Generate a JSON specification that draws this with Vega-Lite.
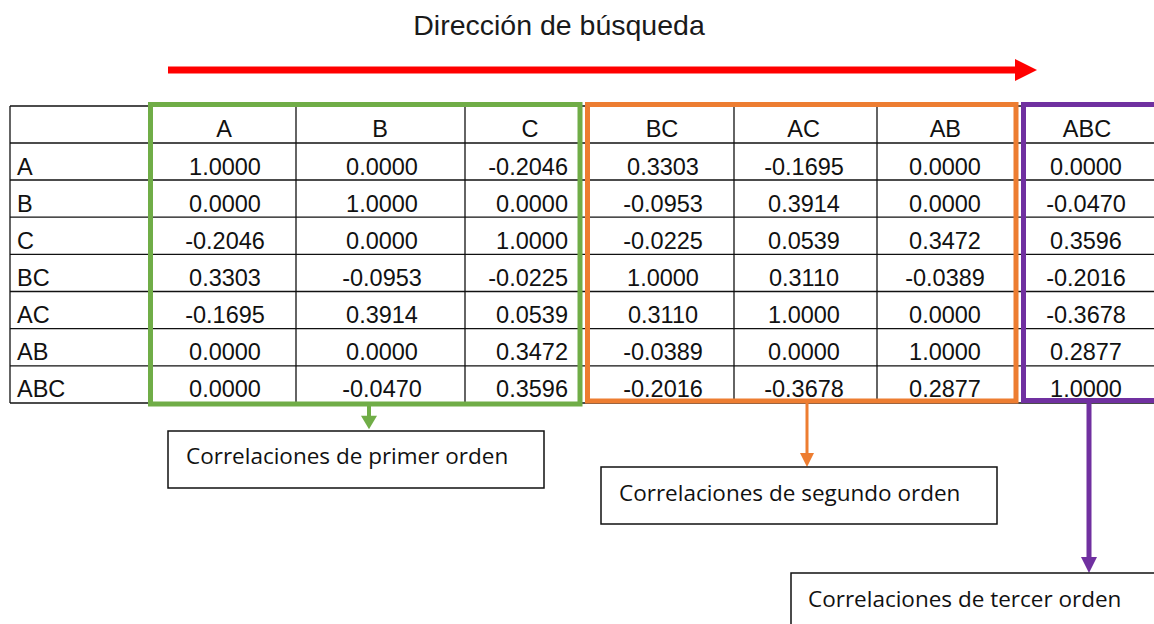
{
  "$schema": "https://vega.github.io/schema/vega-lite/v6.json",
  "width": 1154,
  "height": 624,
  "autosize": {"type": "none"},
  "padding": 0,
  "background": "white",
  "config": {"view": {"stroke": null}},
  "resolve": {"scale": {"x": "independent", "y": "independent"}},
  "datasets": {
    "m": [
      {"row": "A", "col": "A", "v": "1.0000"}, {"row": "A", "col": "B", "v": "0.0000"}, {"row": "A", "col": "C", "v": "-0.2046"}, {"row": "A", "col": "BC", "v": "0.3303"}, {"row": "A", "col": "AC", "v": "-0.1695"}, {"row": "A", "col": "AB", "v": "0.0000"}, {"row": "A", "col": "ABC", "v": "0.0000"},
      {"row": "B", "col": "A", "v": "0.0000"}, {"row": "B", "col": "B", "v": "1.0000"}, {"row": "B", "col": "C", "v": "0.0000"}, {"row": "B", "col": "BC", "v": "-0.0953"}, {"row": "B", "col": "AC", "v": "0.3914"}, {"row": "B", "col": "AB", "v": "0.0000"}, {"row": "B", "col": "ABC", "v": "-0.0470"},
      {"row": "C", "col": "A", "v": "-0.2046"}, {"row": "C", "col": "B", "v": "0.0000"}, {"row": "C", "col": "C", "v": "1.0000"}, {"row": "C", "col": "BC", "v": "-0.0225"}, {"row": "C", "col": "AC", "v": "0.0539"}, {"row": "C", "col": "AB", "v": "0.3472"}, {"row": "C", "col": "ABC", "v": "0.3596"},
      {"row": "BC", "col": "A", "v": "0.3303"}, {"row": "BC", "col": "B", "v": "-0.0953"}, {"row": "BC", "col": "C", "v": "-0.0225"}, {"row": "BC", "col": "BC", "v": "1.0000"}, {"row": "BC", "col": "AC", "v": "0.3110"}, {"row": "BC", "col": "AB", "v": "-0.0389"}, {"row": "BC", "col": "ABC", "v": "-0.2016"},
      {"row": "AC", "col": "A", "v": "-0.1695"}, {"row": "AC", "col": "B", "v": "0.3914"}, {"row": "AC", "col": "C", "v": "0.0539"}, {"row": "AC", "col": "BC", "v": "0.3110"}, {"row": "AC", "col": "AC", "v": "1.0000"}, {"row": "AC", "col": "AB", "v": "0.0000"}, {"row": "AC", "col": "ABC", "v": "-0.3678"},
      {"row": "AB", "col": "A", "v": "0.0000"}, {"row": "AB", "col": "B", "v": "0.0000"}, {"row": "AB", "col": "C", "v": "0.3472"}, {"row": "AB", "col": "BC", "v": "-0.0389"}, {"row": "AB", "col": "AC", "v": "0.0000"}, {"row": "AB", "col": "AB", "v": "1.0000"}, {"row": "AB", "col": "ABC", "v": "0.2877"},
      {"row": "ABC", "col": "A", "v": "0.0000"}, {"row": "ABC", "col": "B", "v": "-0.0470"}, {"row": "ABC", "col": "C", "v": "0.3596"}, {"row": "ABC", "col": "BC", "v": "-0.2016"}, {"row": "ABC", "col": "AC", "v": "-0.3678"}, {"row": "ABC", "col": "AB", "v": "0.2877"}, {"row": "ABC", "col": "ABC", "v": "1.0000"}
    ],
    "notes": [
      {"group": "primer", "label": "Correlaciones de primer orden"},
      {"group": "segundo", "label": "Correlaciones de segundo orden"},
      {"group": "tercer", "label": "Correlaciones de tercer orden"}
    ],
    "title": [{"t": "Dirección de búsqueda"}],
    "one": [{}]
  },
  "layer": [
    {"data": {"name": "title"}, "mark": {"type": "text", "font": "Liberation Sans", "fontSize": 28.5, "align": "center", "baseline": "alphabetic", "color": "#1a1a1a"},
     "encoding": {"x": {"datum": 559, "type": "quantitative", "scale": {"domain": [0, 1154], "nice": false, "zero": false}, "axis": null},
                  "y": {"datum": 35, "type": "quantitative", "scale": {"domain": [0, 624], "nice": false, "zero": false, "reverse": true}, "axis": null},
                  "text": {"field": "t"}}},
    {"data": {"name": "one"}, "mark": {"type": "rule", "color": "#ff0000", "strokeWidth": 7},
     "encoding": {"x": {"datum": 168, "type": "quantitative", "scale": {"domain": [0, 1154], "nice": false, "zero": false}, "axis": null}, "x2": {"datum": 1018},
                  "y": {"datum": 70, "type": "quantitative", "scale": {"domain": [0, 624], "nice": false, "zero": false, "reverse": true}, "axis": null}}},
    {"data": {"name": "one"}, "mark": {"type": "point", "shape": "M-1,-1L1,0L-1,1Z", "filled": true, "opacity": 1, "strokeWidth": 0, "size": 484, "color": "#ff0000"},
     "encoding": {"x": {"datum": 1026, "type": "quantitative", "scale": {"domain": [0, 1154], "nice": false, "zero": false}, "axis": null},
                  "y": {"datum": 70, "type": "quantitative", "scale": {"domain": [0, 624], "nice": false, "zero": false, "reverse": true}, "axis": null}}},

    {"data": {"name": "one"}, "mark": {"type": "rule", "color": "#111", "strokeWidth": 1.3},
     "encoding": {"x": {"datum": 10, "type": "quantitative", "scale": {"domain": [0, 1154], "nice": false, "zero": false}, "axis": null}, "x2": {"datum": 1154},
                  "y": {"datum": 106, "type": "quantitative", "scale": {"domain": [0, 624], "nice": false, "zero": false, "reverse": true}, "axis": null}}},
    {"data": {"name": "one"}, "mark": {"type": "rule", "color": "#111", "strokeWidth": 1.3},
     "encoding": {"x": {"datum": 10, "type": "quantitative", "scale": {"domain": [0, 1154], "nice": false, "zero": false}, "axis": null}, "x2": {"datum": 1154},
                  "y": {"datum": 143, "type": "quantitative", "scale": {"domain": [0, 624], "nice": false, "zero": false, "reverse": true}, "axis": null}}},
    {"data": {"name": "m"}, "transform": [{"filter": "datum.col === 'A'"}], "mark": {"type": "rule", "color": "#111", "strokeWidth": 1.3},
     "encoding": {"x": {"datum": 10, "type": "quantitative", "scale": {"domain": [0, 1154], "nice": false, "zero": false}, "axis": null}, "x2": {"datum": 1154},
                  "y": {"field": "row", "type": "ordinal", "scale": {"type": "point", "domain": ["A", "B", "C", "BC", "AC", "AB", "ABC"], "range": [180, 403], "padding": 0}, "axis": null}}},
    {"data": {"name": "one"}, "mark": {"type": "rule", "color": "#111", "strokeWidth": 1.3},
     "encoding": {"x": {"datum": 10, "type": "quantitative", "scale": {"domain": [0, 1154], "nice": false, "zero": false}, "axis": null},
                  "y": {"datum": 106, "type": "quantitative", "scale": {"domain": [0, 624], "nice": false, "zero": false, "reverse": true}, "axis": null}, "y2": {"datum": 403}}},
    {"data": {"name": "one"}, "mark": {"type": "rule", "color": "#111", "strokeWidth": 1.3},
     "encoding": {"x": {"datum": 296, "type": "quantitative", "scale": {"domain": [0, 1154], "nice": false, "zero": false}, "axis": null},
                  "y": {"datum": 106, "type": "quantitative", "scale": {"domain": [0, 624], "nice": false, "zero": false, "reverse": true}, "axis": null}, "y2": {"datum": 403}}},
    {"data": {"name": "one"}, "mark": {"type": "rule", "color": "#111", "strokeWidth": 1.3},
     "encoding": {"x": {"datum": 465, "type": "quantitative", "scale": {"domain": [0, 1154], "nice": false, "zero": false}, "axis": null},
                  "y": {"datum": 106, "type": "quantitative", "scale": {"domain": [0, 624], "nice": false, "zero": false, "reverse": true}, "axis": null}, "y2": {"datum": 403}}},
    {"data": {"name": "one"}, "mark": {"type": "rule", "color": "#111", "strokeWidth": 1.3},
     "encoding": {"x": {"datum": 734, "type": "quantitative", "scale": {"domain": [0, 1154], "nice": false, "zero": false}, "axis": null},
                  "y": {"datum": 106, "type": "quantitative", "scale": {"domain": [0, 624], "nice": false, "zero": false, "reverse": true}, "axis": null}, "y2": {"datum": 403}}},
    {"data": {"name": "one"}, "mark": {"type": "rule", "color": "#111", "strokeWidth": 1.3},
     "encoding": {"x": {"datum": 877, "type": "quantitative", "scale": {"domain": [0, 1154], "nice": false, "zero": false}, "axis": null},
                  "y": {"datum": 106, "type": "quantitative", "scale": {"domain": [0, 624], "nice": false, "zero": false, "reverse": true}, "axis": null}, "y2": {"datum": 403}}},

    {"data": {"name": "m"}, "transform": [{"filter": "datum.col === 'A'"}], "mark": {"type": "text", "font": "Liberation Sans", "fontSize": 23.5, "align": "left", "baseline": "alphabetic", "color": "#111"},
     "encoding": {"x": {"datum": 17, "type": "quantitative", "scale": {"domain": [0, 1154], "nice": false, "zero": false}, "axis": null},
                  "y": {"field": "row", "type": "ordinal", "scale": {"type": "point", "domain": ["A", "B", "C", "BC", "AC", "AB", "ABC"], "range": [175, 397], "padding": 0}, "axis": null},
                  "text": {"field": "row"}}},
    {"data": {"name": "m"}, "transform": [{"filter": "datum.row === 'A' && (datum.col === 'A' || datum.col === 'B')"}], "mark": {"type": "text", "font": "Liberation Sans", "fontSize": 23.5, "align": "center", "baseline": "alphabetic", "color": "#111"},
     "encoding": {"x": {"field": "col", "type": "ordinal", "scale": {"type": "point", "domain": ["A", "B"], "range": [224, 380], "padding": 0}, "axis": null},
                  "y": {"datum": 137, "type": "quantitative", "scale": {"domain": [0, 624], "nice": false, "zero": false, "reverse": true}, "axis": null},
                  "text": {"field": "col"}}},
    {"data": {"name": "m"}, "transform": [{"filter": "datum.row === 'A' && datum.col === 'C'"}], "mark": {"type": "text", "font": "Liberation Sans", "fontSize": 23.5, "align": "center", "baseline": "alphabetic", "color": "#111"},
     "encoding": {"x": {"field": "col", "type": "ordinal", "scale": {"type": "point", "domain": ["C"], "range": [530, 530], "padding": 0}, "axis": null},
                  "y": {"datum": 137, "type": "quantitative", "scale": {"domain": [0, 624], "nice": false, "zero": false, "reverse": true}, "axis": null},
                  "text": {"field": "col"}}},
    {"data": {"name": "m"}, "transform": [{"filter": "datum.row === 'A' && (datum.col === 'BC' || datum.col === 'AC' || datum.col === 'AB' || datum.col === 'ABC')"}], "mark": {"type": "text", "font": "Liberation Sans", "fontSize": 23.5, "align": "center", "baseline": "alphabetic", "color": "#111"},
     "encoding": {"x": {"field": "col", "type": "ordinal", "scale": {"type": "point", "domain": ["BC", "AC", "AB", "ABC"], "range": [662, 1087], "padding": 0}, "axis": null},
                  "y": {"datum": 137, "type": "quantitative", "scale": {"domain": [0, 624], "nice": false, "zero": false, "reverse": true}, "axis": null},
                  "text": {"field": "col"}}},
    {"data": {"name": "m"}, "transform": [{"filter": "datum.col === 'A' || datum.col === 'B'"}], "mark": {"type": "text", "font": "Liberation Sans", "fontSize": 23.5, "align": "center", "baseline": "alphabetic", "color": "#111"},
     "encoding": {"x": {"field": "col", "type": "ordinal", "scale": {"type": "point", "domain": ["A", "B"], "range": [225, 382], "padding": 0}, "axis": null},
                  "y": {"field": "row", "type": "ordinal", "scale": {"type": "point", "domain": ["A", "B", "C", "BC", "AC", "AB", "ABC"], "range": [175, 397], "padding": 0}, "axis": null},
                  "text": {"field": "v"}}},
    {"data": {"name": "m"}, "transform": [{"filter": "datum.col === 'C'"}], "mark": {"type": "text", "font": "Liberation Sans", "fontSize": 23.5, "align": "right", "baseline": "alphabetic", "color": "#111"},
     "encoding": {"x": {"field": "col", "type": "ordinal", "scale": {"type": "point", "domain": ["C"], "range": [568, 568], "padding": 0}, "axis": null},
                  "y": {"field": "row", "type": "ordinal", "scale": {"type": "point", "domain": ["A", "B", "C", "BC", "AC", "AB", "ABC"], "range": [175, 397], "padding": 0}, "axis": null},
                  "text": {"field": "v"}}},
    {"data": {"name": "m"}, "transform": [{"filter": "datum.col === 'BC' || datum.col === 'AC' || datum.col === 'AB' || datum.col === 'ABC'"}], "mark": {"type": "text", "font": "Liberation Sans", "fontSize": 23.5, "align": "center", "baseline": "alphabetic", "color": "#111"},
     "encoding": {"x": {"field": "col", "type": "ordinal", "scale": {"type": "point", "domain": ["BC", "AC", "AB", "ABC"], "range": [663, 1086], "padding": 0}, "axis": null},
                  "y": {"field": "row", "type": "ordinal", "scale": {"type": "point", "domain": ["A", "B", "C", "BC", "AC", "AB", "ABC"], "range": [175, 397], "padding": 0}, "axis": null},
                  "text": {"field": "v"}}},

    {"data": {"name": "one"}, "mark": {"type": "rect", "fill": null, "stroke": "#70AD47", "strokeWidth": 5},
     "encoding": {"x": {"datum": 150.5, "type": "quantitative", "scale": {"domain": [0, 1154], "nice": false, "zero": false}, "axis": null}, "x2": {"datum": 580},
                  "y": {"datum": 104.5, "type": "quantitative", "scale": {"domain": [0, 624], "nice": false, "zero": false, "reverse": true}, "axis": null}, "y2": {"datum": 404}}},
    {"data": {"name": "one"}, "mark": {"type": "rect", "fill": null, "stroke": "#ED7D31", "strokeWidth": 5},
     "encoding": {"x": {"datum": 587.5, "type": "quantitative", "scale": {"domain": [0, 1154], "nice": false, "zero": false}, "axis": null}, "x2": {"datum": 1016},
                  "y": {"datum": 104.5, "type": "quantitative", "scale": {"domain": [0, 624], "nice": false, "zero": false, "reverse": true}, "axis": null}, "y2": {"datum": 401}}},
    {"data": {"name": "one"}, "mark": {"type": "rect", "fill": null, "stroke": "#7030A0", "strokeWidth": 5},
     "encoding": {"x": {"datum": 1023.5, "type": "quantitative", "scale": {"domain": [0, 1154], "nice": false, "zero": false}, "axis": null}, "x2": {"datum": 1170},
                  "y": {"datum": 104.5, "type": "quantitative", "scale": {"domain": [0, 624], "nice": false, "zero": false, "reverse": true}, "axis": null}, "y2": {"datum": 400.5}}},

    {"data": {"name": "one"}, "mark": {"type": "rule", "color": "#70AD47", "strokeWidth": 4},
     "encoding": {"x": {"datum": 369, "type": "quantitative", "scale": {"domain": [0, 1154], "nice": false, "zero": false}, "axis": null},
                  "y": {"datum": 405, "type": "quantitative", "scale": {"domain": [0, 624], "nice": false, "zero": false, "reverse": true}, "axis": null}, "y2": {"datum": 418}}},
    {"data": {"name": "one"}, "mark": {"type": "point", "shape": "M-1,-0.85L1,-0.85L0,0.85Z", "filled": true, "opacity": 1, "strokeWidth": 0, "size": 256, "color": "#70AD47"},
     "encoding": {"x": {"datum": 369, "type": "quantitative", "scale": {"domain": [0, 1154], "nice": false, "zero": false}, "axis": null},
                  "y": {"datum": 422.5, "type": "quantitative", "scale": {"domain": [0, 624], "nice": false, "zero": false, "reverse": true}, "axis": null}}},
    {"data": {"name": "one"}, "mark": {"type": "rule", "color": "#ED7D31", "strokeWidth": 3},
     "encoding": {"x": {"datum": 807, "type": "quantitative", "scale": {"domain": [0, 1154], "nice": false, "zero": false}, "axis": null},
                  "y": {"datum": 402, "type": "quantitative", "scale": {"domain": [0, 624], "nice": false, "zero": false, "reverse": true}, "axis": null}, "y2": {"datum": 455}}},
    {"data": {"name": "one"}, "mark": {"type": "point", "shape": "M-1,-1L1,-1L0,1Z", "filled": true, "opacity": 1, "strokeWidth": 0, "size": 196, "color": "#ED7D31"},
     "encoding": {"x": {"datum": 807, "type": "quantitative", "scale": {"domain": [0, 1154], "nice": false, "zero": false}, "axis": null},
                  "y": {"datum": 460, "type": "quantitative", "scale": {"domain": [0, 624], "nice": false, "zero": false, "reverse": true}, "axis": null}}},
    {"data": {"name": "one"}, "mark": {"type": "rule", "color": "#7030A0", "strokeWidth": 5},
     "encoding": {"x": {"datum": 1089, "type": "quantitative", "scale": {"domain": [0, 1154], "nice": false, "zero": false}, "axis": null},
                  "y": {"datum": 401, "type": "quantitative", "scale": {"domain": [0, 624], "nice": false, "zero": false, "reverse": true}, "axis": null}, "y2": {"datum": 560}}},
    {"data": {"name": "one"}, "mark": {"type": "point", "shape": "M-1,-1L1,-1L0,1Z", "filled": true, "opacity": 1, "strokeWidth": 0, "size": 256, "color": "#7030A0"},
     "encoding": {"x": {"datum": 1089, "type": "quantitative", "scale": {"domain": [0, 1154], "nice": false, "zero": false}, "axis": null},
                  "y": {"datum": 565, "type": "quantitative", "scale": {"domain": [0, 624], "nice": false, "zero": false, "reverse": true}, "axis": null}}},

    {"data": {"name": "one"}, "mark": {"type": "rect", "fill": "white", "stroke": "#111", "strokeWidth": 1.5},
     "encoding": {"x": {"datum": 168, "type": "quantitative", "scale": {"domain": [0, 1154], "nice": false, "zero": false}, "axis": null}, "x2": {"datum": 544},
                  "y": {"datum": 431, "type": "quantitative", "scale": {"domain": [0, 624], "nice": false, "zero": false, "reverse": true}, "axis": null}, "y2": {"datum": 488}}},
    {"data": {"name": "one"}, "mark": {"type": "rect", "fill": "white", "stroke": "#111", "strokeWidth": 1.5},
     "encoding": {"x": {"datum": 601, "type": "quantitative", "scale": {"domain": [0, 1154], "nice": false, "zero": false}, "axis": null}, "x2": {"datum": 997},
                  "y": {"datum": 467, "type": "quantitative", "scale": {"domain": [0, 624], "nice": false, "zero": false, "reverse": true}, "axis": null}, "y2": {"datum": 524}}},
    {"data": {"name": "one"}, "mark": {"type": "rect", "fill": "white", "stroke": "#111", "strokeWidth": 1.5},
     "encoding": {"x": {"datum": 791, "type": "quantitative", "scale": {"domain": [0, 1154], "nice": false, "zero": false}, "axis": null}, "x2": {"datum": 1170},
                  "y": {"datum": 573, "type": "quantitative", "scale": {"domain": [0, 624], "nice": false, "zero": false, "reverse": true}, "axis": null}, "y2": {"datum": 640}}},
    {"data": {"name": "notes"}, "transform": [{"filter": "datum.group === 'primer'"}], "mark": {"type": "text", "font": "Open Sans", "fontSize": 22.5, "align": "left", "baseline": "alphabetic", "color": "#111"},
     "encoding": {"x": {"field": "group", "type": "ordinal", "scale": {"type": "point", "domain": ["primer"], "range": [186, 186], "padding": 0}, "axis": null},
                  "y": {"field": "group", "type": "ordinal", "scale": {"type": "point", "domain": ["primer"], "range": [464, 464], "padding": 0}, "axis": null},
                  "text": {"field": "label"}}},
    {"data": {"name": "notes"}, "transform": [{"filter": "datum.group === 'segundo'"}], "mark": {"type": "text", "font": "Open Sans", "fontSize": 22.5, "align": "left", "baseline": "alphabetic", "color": "#111"},
     "encoding": {"x": {"field": "group", "type": "ordinal", "scale": {"type": "point", "domain": ["segundo"], "range": [619, 619], "padding": 0}, "axis": null},
                  "y": {"field": "group", "type": "ordinal", "scale": {"type": "point", "domain": ["segundo"], "range": [501, 501], "padding": 0}, "axis": null},
                  "text": {"field": "label"}}},
    {"data": {"name": "notes"}, "transform": [{"filter": "datum.group === 'tercer'"}], "mark": {"type": "text", "font": "Open Sans", "fontSize": 22.5, "align": "left", "baseline": "alphabetic", "color": "#111"},
     "encoding": {"x": {"field": "group", "type": "ordinal", "scale": {"type": "point", "domain": ["tercer"], "range": [808, 808], "padding": 0}, "axis": null},
                  "y": {"field": "group", "type": "ordinal", "scale": {"type": "point", "domain": ["tercer"], "range": [607, 607], "padding": 0}, "axis": null},
                  "text": {"field": "label"}}}
  ]
}
